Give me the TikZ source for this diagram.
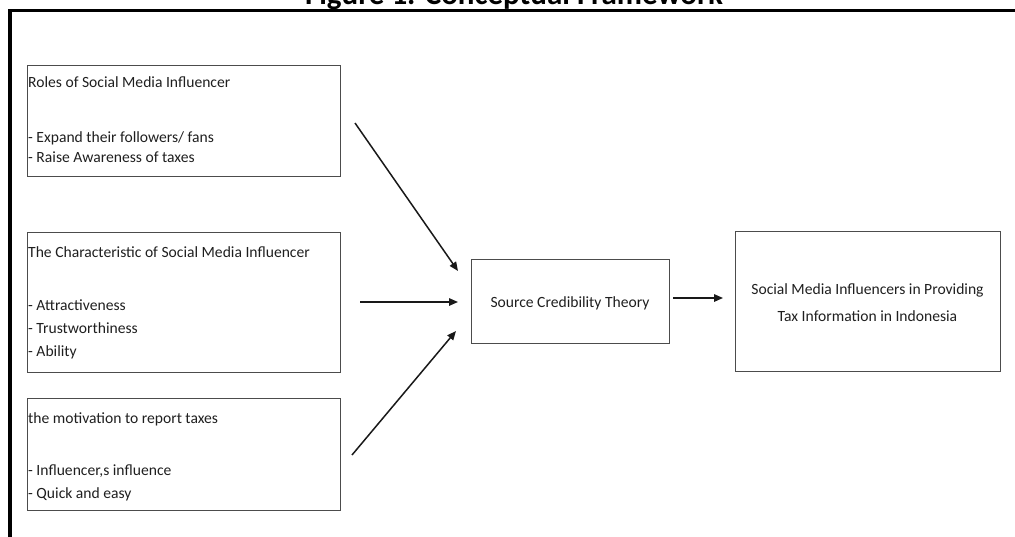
\documentclass[tikz,border=0pt]{standalone}
\usepackage{fontspec}
\setmainfont{Carlito}
\usetikzlibrary{arrows.meta}
\begin{document}
\begin{tikzpicture}[x=1pt,y=-1pt,
  box/.style={draw=black!70, line width=1.3pt, inner sep=0pt, anchor=north west},
  txt/.style={anchor=base west, inner sep=0pt, text=black!88, font=\fontsize{15.6}{18}\selectfont},
  ctxt/.style={anchor=base, inner sep=0pt, text=black!88, font=\fontsize{15.6}{18}\selectfont},
  arr/.style={-{Triangle[length=9pt,width=7.5pt]}, line width=1.5pt, draw=black!90},
  frame/.style={line width=3.5pt, draw=black}
]
\useasboundingbox (0,0) rectangle (1015,536);
\clip (0,0) rectangle (1015,536);
% outer frame
\draw[frame] (10,10.5) rectangle (1040,570);
% title (cut off at top)
\node[anchor=base, inner sep=0pt, font=\fontsize{31}{36}\selectfont\bfseries] (title) at (514,4) {Figure 1. Conceptual Framework};

% left boxes
\node[box, minimum width=313pt, minimum height=111pt] (b1) at (27,65) {};
\node[box, minimum width=313pt, minimum height=140pt] (b2) at (27,232) {};
\node[box, minimum width=313pt, minimum height=112pt] (b3) at (27,398) {};

\node[txt] (b1t) at (28,87) {Roles of Social Media Influencer};
\node[txt] (b1a) at (28,142) {- Expand their followers/ fans};
\node[txt] (b1b) at (28,162.5) {- Raise Awareness of taxes};

\node[txt] (b2t) at (28,257) {The Characteristic of Social Media Influencer};
\node[txt] (b2a) at (28,310) {- Attractiveness};
\node[txt] (b2b) at (28,333) {- Trustworthiness};
\node[txt] (b2c) at (28,356) {- Ability};

\node[txt] (b3t) at (28,423) {the motivation to report taxes};
\node[txt] (b3a) at (28,475) {- Influencer,s influence};
\node[txt] (b3b) at (28,498) {- Quick and easy};

% centre box
\node[box, minimum width=198pt, minimum height=84pt] (sct) at (471,259) {};
\node[ctxt] (sctt) at (570,307.5) {Source Credibility Theory};

% right box
\node[box, minimum width=265pt, minimum height=140pt] (res) at (735,231) {};
\node[ctxt] (res1) at (867.5,294) {Social Media Influencers in Providing};
\node[ctxt] (res2) at (867.5,321) {Tax Information in Indonesia};

% arrows
\coordinate (s1) at (355,123);
\coordinate (e1) at (458,271);
\coordinate (s2) at (360,302);
\coordinate (e2) at (458,302);
\coordinate (s3) at (352,455);
\coordinate (e3) at (456,331);
\coordinate (s4) at (673,298);
\coordinate (e4) at (723,298);
\draw[arr] (s1) -- (e1);
\draw[arr] (s2) -- (e2);
\draw[arr] (s3) -- (e3);
\draw[arr] (s4) -- (e4);
\end{tikzpicture}
\end{document}
